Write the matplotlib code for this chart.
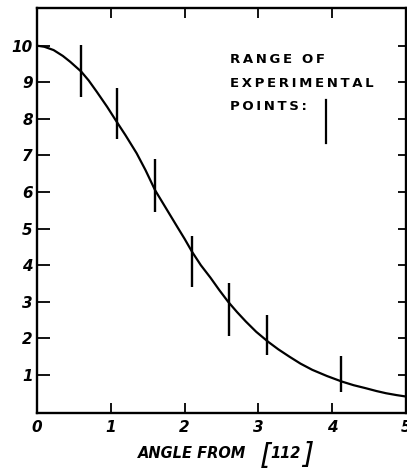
import matplotlib
matplotlib.use("Agg")
import matplotlib.pyplot as plt
from matplotlib.font_manager import FontProperties

# Fitted curve
curve_x = [0.0, 0.1, 0.225, 0.35, 0.45, 0.6, 0.7, 0.81, 0.95, 1.08, 1.2, 1.35,
           1.47, 1.6, 1.75, 1.9, 2.0, 2.1, 2.22, 2.35, 2.47, 2.59, 2.71, 2.83,
           2.97, 3.13, 3.27, 3.42, 3.57, 3.73, 3.93, 4.13, 4.29, 4.45, 4.6,
           4.73, 4.87, 5.0]
curve_y = [10.0, 9.97, 9.88, 9.72, 9.56, 9.29, 9.05, 8.74, 8.33, 7.92, 7.55, 7.06,
           6.6, 6.05, 5.55, 5.05, 4.72, 4.37, 4.0, 3.66, 3.32, 3.0, 2.72, 2.46,
           2.18, 1.91, 1.7, 1.5, 1.31, 1.14, 0.97, 0.82, 0.72, 0.64, 0.56,
           0.5, 0.45, 0.41]

# Ranges of experimental points
pt_x = [0.6, 1.08, 1.6, 2.1, 2.6, 3.12, 4.12]
pt_low = [8.6, 7.44, 5.46, 3.41, 2.07, 1.54, 0.53]
pt_high = [10.02, 8.83, 6.89, 4.81, 3.50, 2.65, 1.52]

x_ticks = [0, 1, 2, 3, 4, 5]
x_ticklabels = ["0", "1", "2", "3", "4", "5"]
y_ticks = [1, 2, 3, 4, 5, 6, 7, 8, 9, 10]
y_ticklabels = ["1", "2", "3", "4", "5", "6", "7", "8", "9", "10"]

fig = plt.figure(figsize=(4.07, 4.71), dpi=100)
ax = fig.add_axes([37 / 407, 58 / 471, 369 / 407, 405 / 471])

ax.plot(curve_x, curve_y, color="black", lw=1.6, solid_joinstyle="round")
ax.vlines(pt_x, pt_low, pt_high, color="black", lw=1.7)

ax.set_xlim(0, 5)
ax.set_ylim(-0.04, 11.03)

ax.set_xticks(x_ticks)
ax.set_xticklabels(x_ticklabels)
ax.set_yticks(y_ticks)
ax.set_yticklabels(y_ticklabels)

fp = FontProperties(family="DejaVu Sans", weight="bold", style="italic", size=11)
for lbl in ax.get_xticklabels() + ax.get_yticklabels():
    lbl.set_fontproperties(fp)

ax.tick_params(axis="both", direction="in", width=1.3, top=True, right=True)
ax.tick_params(axis="x", which="both", length=7, pad=5)
ax.tick_params(axis="y", left=True, length=9, pad=3)
for t in ax.yaxis.get_major_ticks():
    t.tick2line.set_markersize(6)
for s in ax.spines.values():
    s.set_linewidth(1.7)

# Axis title with large brackets
label_kw = dict(fontweight="bold", fontstyle="italic", family="DejaVu Sans")
fig.text(246 / 407, 1 - 454 / 471, "ANGLE FROM", ha="right", va="center",
         fontsize=10.5, **label_kw)
fig.text(266 / 407, 1 - 456 / 471, "[", ha="center", va="center",
         fontsize=21, fontstyle="italic", family="DejaVu Sans")
fig.text(286 / 407, 1 - 454 / 471, "112", ha="center", va="center",
         fontsize=10.5, **label_kw)
fig.text(308 / 407, 1 - 455 / 471, "]", ha="center", va="center",
         fontsize=21, fontstyle="italic", family="DejaVu Sans")

# Legend-like annotation
ts = "\u2009"
lines = ["RANGE OF", "EXPERIMENTAL", "POINTS:"]
legend_text = "\n".join(ts.join(list(s)) for s in lines)
ax.text(0.523, 0.888, legend_text, transform=ax.transAxes,
        ha="left", va="top", fontsize=9.5, fontweight="bold", family="DejaVu Sans",
        linespacing=2.05)
ax.plot([0.783, 0.783], [0.773, 0.667], transform=ax.transAxes,
        color="black", lw=1.6)

fig.savefig("out.png", dpi=100)
